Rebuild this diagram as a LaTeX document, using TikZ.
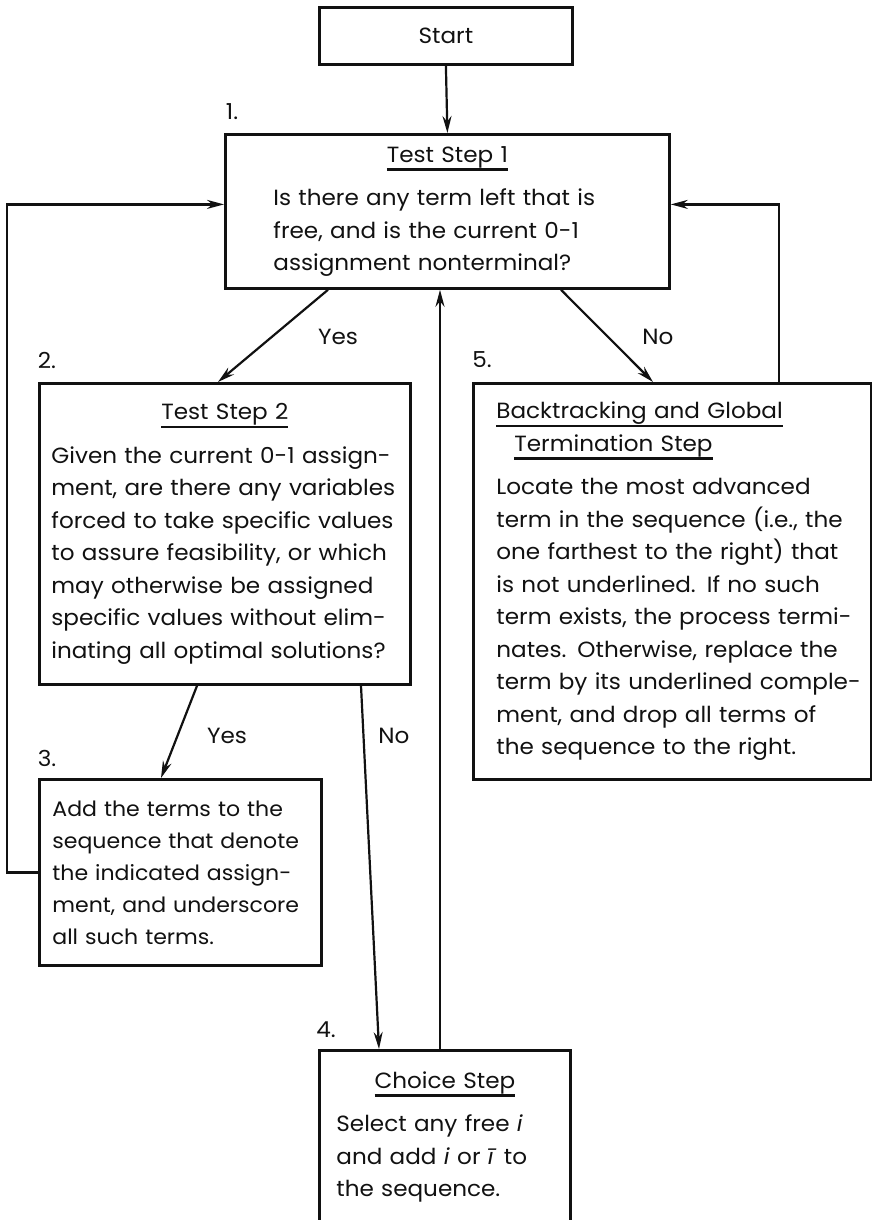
\documentclass[tikz,border=0pt]{standalone}
\usepackage{fontspec}
\setmainfont[FakeStretch=1.05]{Poppins}
\usetikzlibrary{arrows.meta}
\definecolor{flowInk}{HTML}{111111}
\newcommand{\ulstep}[1]{\setbox0\hbox{#1}\rlap{\vrule height -6pt depth 8.5pt width \wd0}\box0}
\tikzset{
  every picture/.style={font=\fontsize{22}{32.5}\selectfont, text=flowInk},
  flow box/.style={draw=flowInk, line width=2.8pt, rectangle, anchor=north west, align=left},
  flow arrow/.style={-{Stealth[length=17pt,width=9pt]}, draw=flowInk, line width=2.2pt},
  flow label/.style={inner sep=0pt}
}

\begin{document}
\begin{tikzpicture}[x=1pt,y=-1pt]
  \useasboundingbox (0,0) rectangle (871,1220);
  \node[flow box, minimum width=253pt, minimum height=57pt, align=center] (start) at (318,6) {Start};
  \node[flow box, minimum width=444pt, minimum height=154pt, inner xsep=48pt, text width=348pt] (test1) at (224,133)
    {\centerline{\ulstep{Test Step 1}}\vskip 11pt
     Is there any term left that is\\ free, and is the current 0-1\\ assignment nonterminal?};
  \node[flow box, minimum width=371pt, minimum height=301pt, inner xsep=12pt, text width=347pt] (test2) at (38,382)
    {\centerline{\ulstep{Test Step 2}}\vskip 11pt
     Given the current 0-1 assign-\\ ment, are there any variables\\ forced to take specific values\\
     to assure feasibility, or which\\ may otherwise be assigned\\ specific values without elim-\\
     inating all optimal solutions?};
  \node[flow box, minimum width=398pt, minimum height=396pt, inner xsep=8pt, text width=382pt] (backtrack) at (472,382)
    {\leftskip=15pt
     \ulstep{Backtracking and Global}\\ \hspace*{18pt}\ulstep{Termination Step}\\[11pt]
     Locate the most advanced\\ term in the sequence (i.e., the\\ one farthest to the right) that\\
     is not underlined.  If no such\\ term exists, the process termi-\\ nates.  Otherwise, replace the\\
     term by its underlined comple-\\ ment, and drop all terms of\\ the sequence to the right.\par};
  \node[flow box, minimum width=282pt, minimum height=186pt, inner xsep=13pt, text width=256pt,
    font=\fontsize{21}{32}\selectfont] (addterms) at (38,778)
    {Add the terms to the\\ sequence that denote\\ the indicated assign-\\ ment, and underscore\\ all such terms.};
  \node[flow box, minimum width=251pt, minimum height=173pt, inner xsep=17pt, text width=217pt] (choice) at (318,1049)
    {\centerline{\ulstep{Choice Step}}\vskip 11pt
     Select any free \textit{i}\\ and add \textit{i} or \textit{\={\i}} to\\ the sequence.};

  % step numbers
  \node[flow label] (num1) at (232,112) {1.};
  \node[flow label] (num2) at (47,360) {2.};
  \node[flow label] (num3) at (47,758) {3.};
  \node[flow label] (num4) at (326,1030) {4.};
  \node[flow label] (num5) at (482,360) {5.};

  % branch labels
  \node[flow label] (yes1) at (338,337) {Yes};
  \node[flow label] (no1) at (658,337) {No};
  \node[flow label] (yes2) at (227,736) {Yes};
  \node[flow label] (no2) at (394,736) {No};

  \draw[flow arrow] (start.south) -- (test1.north);
  \draw[flow arrow] ([xshift=104pt]test1.south west) -- ([xshift=180pt]test2.north west);
  \draw[flow arrow] ([xshift=337pt]test1.south west) -- ([xshift=181pt]backtrack.north west);
  \draw[flow arrow] ([xshift=159pt]test2.south west) -- ([xshift=123pt]addterms.north west);
  \draw[flow arrow] ([xshift=323pt]test2.south west) -- ([xshift=61pt]choice.north west);
  \draw[flow arrow] ([xshift=122pt]choice.north west) -- ([xshift=122pt]choice.north west |- test1.south);
  \draw[flow arrow] (addterms.west) -- ++(-31,0) |- ([yshift=7pt]test1.west);
  \draw[flow arrow] ([xshift=307pt]backtrack.north west) |- ([yshift=7pt]test1.east);
\end{tikzpicture}
\end{document}
